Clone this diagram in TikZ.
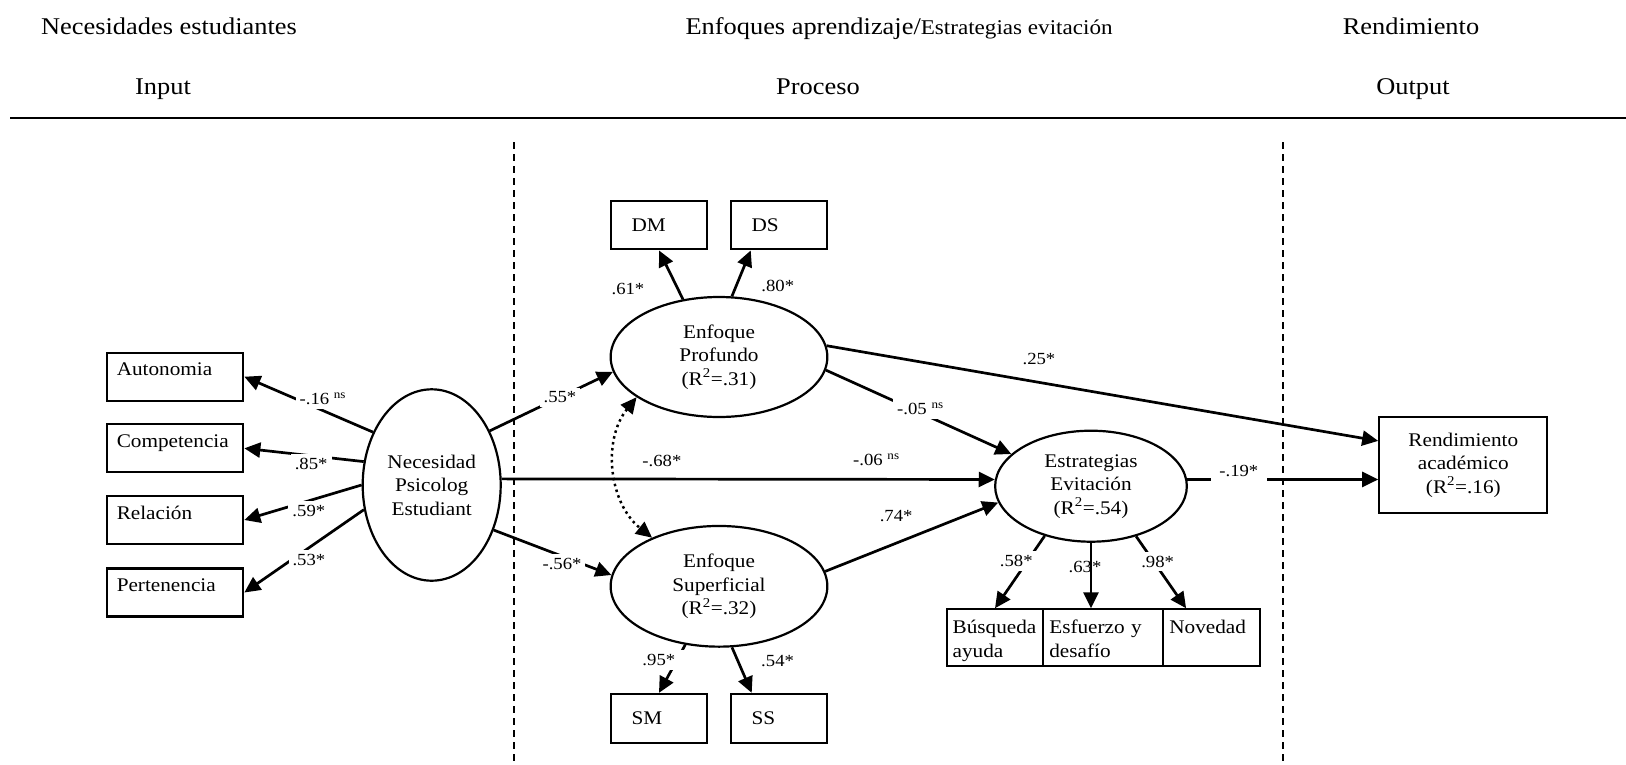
\documentclass[tikz,border=0pt]{standalone}
\usepackage{fontspec}
\setmainfont{Liberation Serif}[FakeStretch=1.1]
\usetikzlibrary{shapes.geometric,arrows.meta}

\begin{document}
\begin{tikzpicture}[x=1pt, y=-1pt,
  font=\fontsize{19.3}{23.5}\selectfont,
  head/.style={anchor=base, font=\fontsize{24}{28}\selectfont},
  lat/.style={shape=ellipse, draw, line width=2.2pt, inner sep=0pt, align=center},
  sidebox/.style={shape=rectangle, draw, line width=2.2pt, minimum width=136.5pt, minimum height=48pt, inner xsep=10pt, text width=116.5pt, align=left, text height=14pt, text depth=16pt},
  smallbox/.style={shape=rectangle, draw, line width=2.2pt, minimum width=96.7pt, minimum height=48.7pt, inner xsep=21pt, text width=54.7pt, align=left},
  lowbox/.style={shape=rectangle, draw, line width=2.2pt, minimum height=56.7pt, inner xsep=6pt, align=left, text height=14pt, text depth=22pt},
  arr/.style={-{Triangle[length=16pt, width=15pt]}, line width=2.7pt},
  dotarr/.style={{Triangle[length=16pt, width=15pt]}-{Triangle[length=16pt, width=15pt]}, line width=2.5pt, dash pattern=on 2.5pt off 3.5pt},
  coef/.style={font=\fontsize{17}{19}\selectfont, inner sep=2pt},
  coefw/.style={coef, fill=white, inner sep=4pt}]
\useasboundingbox (0,0) rectangle (1626,764);

\node [head] (hNec) at (169,34) {Necesidades estudiantes};
\node [head, anchor=base west] (hEnf) at (682,34) {Enfoques aprendizaje/\fontsize{21}{24}\selectfont Estrategias evitación};
\node [head] (hRen) at (1411,34) {Rendimiento};
\node [head] (hIn) at (163,94) {Input};
\node [head] (hPro) at (818,94) {Proceso};
\node [head] (hOut) at (1413,94) {Output};
\draw [line width=2.8pt] (10,118) -- (1626,118);
\draw [line width=2.2pt, dash pattern=on 7pt off 5pt] (514,142) -- (514,764);
\draw [line width=2.2pt, dash pattern=on 7pt off 5pt] (1283,142) -- (1283,764);

\node [sidebox] (Aut) at (175,376.7) {Autonomia};
\node [sidebox] (Comp) at (175,448.3) {Competencia};
\node [sidebox] (Rel) at (175,520) {Relación};
\node [sidebox] (Pert) at (175,592.5) {Pertenencia};
\node [lat, minimum width=138pt, minimum height=191.4pt] (NPE) at (431.7,485) {Necesidad\\Psicolog\\Estudiant};

\node [smallbox] (DM) at (659,225) {DM};
\node [smallbox] (DS) at (779,225) {DS};
\node [lat, minimum width=216.7pt, minimum height=120pt] (EP) at (719,357) {Enfoque\\Profundo\\(R\textsuperscript{2}=.31)};
\node [lat, minimum width=216.7pt, minimum height=120.7pt] (ES) at (719,586.3) {Enfoque\\Superficial\\(R\textsuperscript{2}=.32)};
\node [smallbox] (SM) at (659,718.3) {SM};
\node [smallbox] (SS) at (779,718.3) {SS};

\node [lat, minimum width=191.7pt, minimum height=111pt] (EE) at (1091,486.2) {Estrategias\\Evitación\\(R\textsuperscript{2}=.54)};
\node [lowbox, text width=84.7pt] (BA) at (995,637.7) {Búsqueda\\ayuda};
\node [lowbox, text width=108pt] (EyD) at (1103.3,637.7) {Esfuerzo y\\desafío};
\node [lowbox, text width=84.7pt] (Nov) at (1211.7,637.7) {Novedad};
\node [shape=rectangle, draw, line width=2.2pt, minimum width=168pt, minimum height=96pt, align=center] (RA) at (1463.3,465.3) {Rendimiento\\académico\\(R\textsuperscript{2}=.16)};

\draw [arr] (NPE.138) to node [coefw, pos=0.39, yshift=12pt] {-.16 \textsuperscript{ns}} (Aut.east);
\draw [arr] (NPE.161) to node [coefw, pos=0.44, yshift=-8pt] {.85*} (Comp.east);
\draw [arr] (NPE.180) to node [coefw, pos=0.45, yshift=-10pt] {.59*} (Rel.east);
\draw [arr] (NPE.200) to node [coefw, pos=0.46, yshift=-12pt] {.53*} (Pert.east);
\draw [arr] (NPE.43) to node [coefw, pos=0.57] {.55*} (EP.188);
\draw [arr] (NPE.-36) to node [coefw, pos=0.58, yshift=-8pt] {-.56*} (ES.174);
\draw [arr] (NPE.5) to node [coef, pos=0.76, above=10pt] {-.06 \textsuperscript{ns}} (EE.176);
\draw [dotarr] (EP.206) to [bend right=45] node [coef, right=24pt, yshift=10pt] {-.68*} (ES.144);
\draw [arr] (EP.122) to node [coef, pos=0.22, left=30pt] {.61*} (DM.south);
\draw [arr] (EP.78) to node [coef, pos=0.22, right=22pt] {.80*} (DS.222);
\draw [arr] (ES.240) to node [coefw, pos=0.32, xshift=-18pt, minimum width=64pt] {.95*} (SM.north);
\draw [arr] (ES.282) to node [coef, pos=0.3, right=20pt] {.54*} (SS.137);
\draw [arr] (EP.-7) to node [coefw, pos=0.51, yshift=4pt] {-.05 \textsuperscript{ns}} (EE.158);
\draw [arr] (EP.6) to node [coef, pos=0.385, above=14pt] {.25*} (RA.164);
\draw [arr] (ES.8) to node [coef, pos=0.41, above=18pt] {.74*} (EE.190);
\draw [arr] (EE.4) to node [coefw, pos=0.27, yshift=8pt, minimum width=56pt] {-.19*} (EE.4 -| RA.west);
\draw [arr] (EE.227) to node [coefw, pos=0.35, xshift=-11pt] {.58*} (BA.north);
\draw [arr] (EE.south) to node [coef, pos=0.37, xshift=-6pt] {.63*} (EE.south |- EyD.north);
\draw [arr] (EE.312) to node [coefw, pos=0.35, xshift=4pt] {.98*} (Nov.131);
\end{tikzpicture}
\end{document}
